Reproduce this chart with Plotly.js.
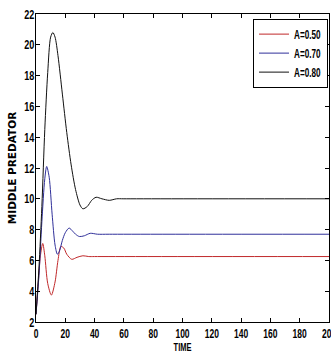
<!DOCTYPE html>
<html>
<head>
<meta charset="utf-8">
<script src="https://cdn.plot.ly/plotly-3.0.1.min.js"></script>
<style>html,body{margin:0;padding:0;background:#fff;}#chart{width:331px;height:354px;}</style>
</head>
<body>
<div id="chart"></div>
<script>
// A=0.50 (red)
const tRed = [0,1.5,3,4.6,6,8,10.5,13,15,17,19,21,24.4,28,32,36,40,200];
const vRed = [2.5,4.5,6.3,7.1,6.3,4.5,3.75,4.6,6.0,6.9,6.8,6.4,6.07,6.2,6.3,6.25,6.25,6.25];
// A=0.70 (blue)
const tBlue = [0,2,4,6,7.3,9,11,13,14.6,16,18,20,22.6,25,27,29.6,33,37,42,50,200];
const vBlue = [2.5,5,8.5,11.3,12.1,11.4,9,7.0,6.4,6.6,7.3,7.8,8.1,7.9,7.7,7.55,7.6,7.76,7.7,7.7,7.7];
// A=0.80 (black)
const tBlack = [0,2,4,6,8,10,11.5,13,15,18,21,24,27,30,32,35,38,41,45,50,55,60,200];
const vBlack = [2.5,5.5,9.5,14.5,18.2,20.5,20.8,20.5,19.3,16.8,14.3,12.2,10.6,9.6,9.35,9.5,9.9,10.1,10.0,9.9,10.0,10.0,10.0];
const seriesNames = ["A=0.50","A=0.70","A=0.80"];
const xTicks = [0,20,40,60,80,100,120,140,160,180,200];
const yTicks = [2,4,6,8,10,12,14,16,18,20,22];

const FONT = "'Liberation Sans',Arial,sans-serif";
const mk = (x,y,name,color) => ({x:x,y:y,name:name,type:'scatter',mode:'lines',
  line:{color:color,width:1,shape:'spline',smoothing:0.8}});
const data = [
  mk(tRed,vRed,seriesNames[0],'#c0282a'),
  mk(tBlue,vBlue,seriesNames[1],'#30309a'),
  mk(tBlack,vBlack,seriesNames[2],'#111111')
];
const axisCommon = {showgrid:false,zeroline:false,showline:true,linecolor:'#000',linewidth:1,
  mirror:'ticks',ticks:'inside',ticklen:4,tickcolor:'#000',ticklabeloverflow:'allow'};
const layout = {
  width:331,height:354,
  margin:{l:36,r:2,t:14,b:32},
  paper_bgcolor:'#fff',plot_bgcolor:'#fff',
  showlegend:true,
  legend:{x:0.995,xanchor:'right',y:0.985,yanchor:'top',bgcolor:'#fff',bordercolor:'#000',borderwidth:1,
    font:{family:FONT,size:12,color:'#000',weight:'bold'},tracegroupgap:0,itemwidth:30},
  xaxis:Object.assign({},axisCommon,{range:[0,200],tickvals:xTicks,ticktext:xTicks.map(String),
    tickfont:{family:FONT,size:12.5,color:'#000',weight:'bold'},
    title:{text:'<b>TIME</b>',font:{family:FONT,size:11,color:'#000'},standoff:3}}),
  yaxis:Object.assign({},axisCommon,{range:[2,22],tickvals:yTicks,ticktext:yTicks.map(String),
    ticklabelstandoff:-2,
    tickfont:{family:FONT,size:13,color:'#000',weight:'bold'},
    title:{text:'<b>MIDDLE PREDATOR</b>',font:{family:"'DejaVu Sans',sans-serif",size:10.5,color:'#000'},standoff:4}})
};
function squeeze(sel, s){
  let maxDelta = 0;
  document.querySelectorAll(sel).forEach(t => {
    const w = t.getComputedTextLength();
    if (!w) return;
    t.setAttribute('textLength', (w*s).toFixed(2));
    t.setAttribute('lengthAdjust','spacingAndGlyphs');
    maxDelta = Math.max(maxDelta, w*(1-s));
  });
  return maxDelta;
}
Plotly.newPlot('chart',data,layout,{staticPlot:true}).then(() => {
  squeeze('#chart .xtick text', 0.68);
  const dy = squeeze('#chart .ytick text', 0.70);
  squeeze('#chart .g-xtitle text', 0.68);
  // the y tick labels are narrower now: bring the y title a little closer to them
  const yt = document.querySelector('#chart .g-ytitle');
  if (yt) yt.setAttribute('transform', 'translate(' + Math.min(3.5, dy).toFixed(2) + ',0)');
  const d = squeeze('#chart .legendtext', 0.68);
  // narrow the legend box to fit the condensed text, keeping its right edge
  const bg = document.querySelector('#chart .legend rect.bg');
  const lg = document.querySelector('#chart g.legend');
  if (bg && lg && d > 0) {
    const w = parseFloat(bg.getAttribute('width'));
    bg.setAttribute('width', (w - d).toFixed(2));
    const clip = document.querySelector('#chart defs clipPath[id^="legend"] rect');
    if (clip) clip.setAttribute('width', (parseFloat(clip.getAttribute('width')) - d).toFixed(2));
    const tr = lg.getAttribute('transform') || '';
    const m = tr.match(/translate\(([-\d.]+)[ ,]+([-\d.]+)\)/);
    if (m) lg.setAttribute('transform', 'translate(' + (parseFloat(m[1]) + d).toFixed(2) + ',' + m[2] + ')');
  }
});
</script>
</body>
</html>
